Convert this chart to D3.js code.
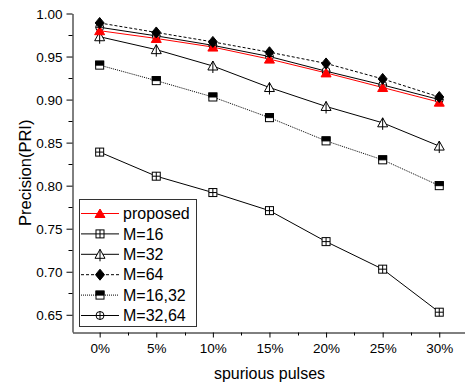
<!DOCTYPE html>
<html>
<head>
<meta charset="utf-8">
<script src="https://cdn.jsdelivr.net/npm/d3@7/dist/d3.min.js"></script>
<style>
  html, body { margin: 0; padding: 0; background: #fff; }
  svg { display: block; font-family: "Liberation Sans", Arial, sans-serif; }
</style>
</head>
<body>
<svg id="chart" width="465" height="384"></svg>
<script>
// Spurious pulse ratio (%) on the x axis
const spurious = [0, 5, 10, 15, 20, 25, 30];

// Precision of PRI estimation per method
const proposed = [0.980, 0.971, 0.961, 0.947, 0.931, 0.914, 0.897];
const m16      = [0.839, 0.811, 0.792, 0.771, 0.735, 0.703, 0.653];
const m32      = [0.973, 0.958, 0.939, 0.914, 0.892, 0.873, 0.846];
const m64      = [0.989, 0.978, 0.967, 0.955, 0.942, 0.924, 0.903];
const m16_32   = [0.940, 0.922, 0.903, 0.879, 0.852, 0.830, 0.800];
const m32_64   = [0.984, 0.974, 0.963, 0.950, 0.933, 0.917, 0.900];

const seriesNames = ["proposed", "M=16", "M=32", "M=64", "M=16,32", "M=32,64"];

const yTicks = [0.65, 0.70, 0.75, 0.80, 0.85, 0.90, 0.95, 1.00];
const yMinor = [0.675, 0.725, 0.775, 0.825, 0.875, 0.925, 0.975];
const xMinor = [2.5, 7.5, 12.5, 17.5, 22.5, 27.5, 32.5];

const series = [
  { name: seriesNames[0], values: proposed, color: "#ff0000", dash: null,  marker: "triFilled" },
  { name: seriesNames[1], values: m16,      color: "#000",    dash: null,  marker: "squareCross" },
  { name: seriesNames[2], values: m32,      color: "#000",    dash: null,  marker: "triLine" },
  { name: seriesNames[3], values: m64,      color: "#000",    dash: "3,2", marker: "diamond" },
  { name: seriesNames[4], values: m16_32,   color: "#000",    dash: "1,1", marker: "squareHalf" },
  { name: seriesNames[5], values: m32_64,   color: "#000",    dash: null,  marker: "circleCross" }
];

const svg = d3.select("#chart");

const x = d3.scaleLinear().domain([-2.4, 32.3]).range([72.5, 465.3]);
const y = d3.scaleLinear().domain([0.63, 1.00]).range([332, 13.5]);

// Axes
const yAxis = d3.axisLeft(y).tickValues(yTicks).tickFormat(d3.format(".2f"))
  .tickSizeInner(6).tickSizeOuter(0).tickPadding(4);
const xAxis = d3.axisBottom(x).tickValues(spurious).tickFormat(d => d + "%")
  .tickSizeInner(5).tickSizeOuter(0).tickPadding(6);

const gy = svg.append("g").attr("transform", "translate(72.5,0)").call(yAxis);
const gx = svg.append("g").attr("transform", "translate(0,332.5)").call(xAxis);

[gx, gy].forEach(g => {
  g.select(".domain").attr("stroke", "#000").attr("stroke-width", 1);
  g.selectAll(".tick line").attr("stroke", "#000");
  g.selectAll(".tick text").attr("fill", "#000").style("font-size", "13.5px")
    .style("font-family", "'Liberation Sans', Arial, sans-serif");
});
gy.selectAll(".tick text").attr("dy", "0.36em");

// Minor ticks
gy.selectAll(".minor").data(yMinor).enter().append("line")
  .attr("x1", -4).attr("x2", 0)
  .attr("y1", d => Math.round(y(d)) + 0.5).attr("y2", d => Math.round(y(d)) + 0.5)
  .attr("stroke", "#000");
gx.selectAll(".minor").data(xMinor.filter(d => x(d) < 465)).enter().append("line")
  .attr("y1", 0).attr("y2", 3)
  .attr("x1", d => Math.round(x(d)) + 0.5).attr("x2", d => Math.round(x(d)) + 0.5)
  .attr("stroke", "#000");

// Axis titles
svg.append("text")
  .attr("x", x(15)).attr("y", 379)
  .attr("text-anchor", "middle")
  .style("font-size", "16px")
  .text("spurious pulses");

svg.append("text")
  .attr("transform", `translate(31,${(y(1.0) + y(0.63)) / 2}) rotate(-90)`)
  .attr("text-anchor", "middle")
  .style("font-size", "16.5px")
  .text("Precision(PRI)");

// Marker drawing
function drawMarker(g, type, color) {
  const sw = 1;
  switch (type) {
    case "triFilled":
      g.append("path").attr("d", "M0,-4.5L5,4L-5,4Z").attr("fill", color).attr("stroke", color).attr("stroke-width", sw);
      break;
    case "squareCross":
      g.append("rect").attr("x", -4).attr("y", -4).attr("width", 8).attr("height", 8)
        .attr("fill", "#fff").attr("stroke", color).attr("stroke-width", sw);
      g.append("path").attr("d", "M0,-4V4M-4,0H4").attr("stroke", color).attr("stroke-width", sw);
      break;
    case "triLine":
      g.append("path").attr("d", "M0,-5L5,4L-5,4Z").attr("fill", "#fff").attr("stroke", color).attr("stroke-width", sw);
      g.append("path").attr("d", "M0,-5V7").attr("stroke", color).attr("stroke-width", sw);
      break;
    case "diamond":
      g.append("path").attr("d", "M0,-5.5L4.5,0L0,5.5L-4.5,0Z").attr("fill", color).attr("stroke", color).attr("stroke-width", sw);
      break;
    case "squareHalf":
      g.append("rect").attr("x", -4).attr("y", -4).attr("width", 8).attr("height", 8)
        .attr("fill", "#fff").attr("stroke", color).attr("stroke-width", sw);
      g.append("rect").attr("x", -4).attr("y", -4).attr("width", 8).attr("height", 4)
        .attr("fill", color).attr("stroke", color).attr("stroke-width", sw);
      break;
    case "circleCross":
      g.append("circle").attr("r", 4).attr("fill", "#fff").attr("stroke", color).attr("stroke-width", sw);
      g.append("path").attr("d", "M0,-4V4M-4,0H4").attr("stroke", color).attr("stroke-width", sw);
      break;
  }
}

const line = d3.line().x((d, i) => x(spurious[i])).y(d => y(d));

// Draw lines first (bottom series upward), then markers on top
const drawOrder = [1, 4, 2, 5, 0, 3];
drawOrder.forEach(k => {
  const s = series[k];
  svg.append("path")
    .datum(s.values)
    .attr("d", line)
    .attr("fill", "none")
    .attr("stroke", s.color)
    .attr("stroke-width", 1)
    .attr("stroke-dasharray", s.dash);
});
drawOrder.forEach(k => {
  const s = series[k];
  s.values.forEach((v, i) => {
    const g = svg.append("g").attr("transform", `translate(${x(spurious[i])},${y(v)})`);
    drawMarker(g, s.marker, s.color);
  });
});

// Legend
const legend = svg.append("g");
legend.append("rect")
  .attr("x", 79.5).attr("y", 199.5).attr("width", 117).attr("height", 127)
  .attr("fill", "#fff").attr("stroke", "#333").attr("stroke-width", 1);

series.forEach((s, i) => {
  const ly = 213.5 + i * 20.4;
  legend.append("line")
    .attr("x1", 81).attr("x2", 119).attr("y1", ly).attr("y2", ly)
    .attr("stroke", s.color).attr("stroke-width", 1)
    .attr("stroke-dasharray", s.dash);
  drawMarker(legend.append("g").attr("transform", `translate(100,${ly})`), s.marker, s.color);
  legend.append("text")
    .attr("x", 123).attr("y", ly).attr("dy", "0.36em")
    .style("font-size", "16px")
    .text(s.name);
});
</script>
</body>
</html>
